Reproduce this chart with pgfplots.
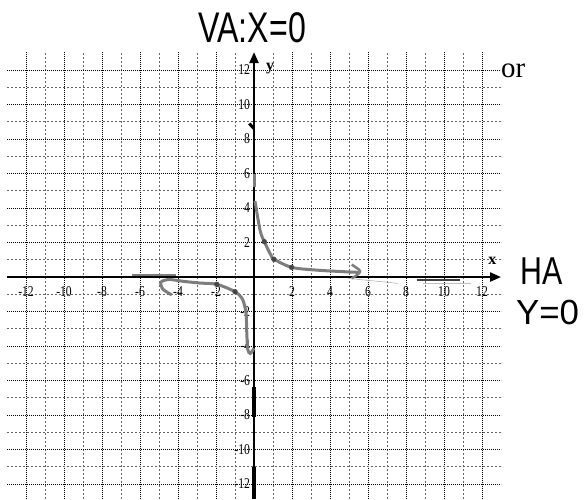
\documentclass[border=0pt]{standalone}
\usepackage{pgfplots}
\pgfplotsset{compat=1.18}
\usetikzlibrary{arrows.meta}
\usepackage{fontspec}
\setmainfont{Liberation Serif}
\newfontfamily\hand{Liberation Sans}

\definecolor{pen}{RGB}{125,125,125}
\definecolor{pendark}{RGB}{70,70,70}

\begin{document}
\begin{tikzpicture}
\begin{axis}[
  x=19bp, y=17.25bp,
  xmin=-13, xmax=13, ymin=-12.87, ymax=13.04,
  axis lines=middle,
  axis line style={black, line width=2.3bp, -{Triangle[length=11bp,width=9bp]}},
  xtick={-12,-10,-8,-6,-4,-2,2,4,6,8,10,12},
  xticklabels={-12,-10,-8,-6,-4,-2,2,4,6,8,10,12},
  ytick={-12,-10,-8,-6,-4,-2,2,4,6,8,10,12},
  yticklabels={-12,-10,-8,-6,-4,-2,2,4,6,8,10,12},
  minor xtick={-11,-9,-7,-5,-3,-1,1,3,5,7,9,11},
  minor ytick={-11,-9,-7,-5,-3,-1,1,3,5,7,9,11},
  major tick length=0pt, minor tick length=0pt,
  grid=both,
  major grid style={black, line width=0.7bp, dash pattern=on 0.9bp off 1.1bp},
  minor grid style={black!60, line width=0.6bp, dash pattern=on 1.6bp off 2.4bp},
  tick label style={font=\fontsize{15}{16}\selectfont, inner sep=0pt, xscale=0.78},
  xticklabel style={anchor=center, yshift=-14.7bp},
  yticklabel style={anchor=east, xshift=-5bp},
  xlabel={x}, ylabel={y},
  xlabel style={at={(axis description cs:0.9827,0.534)}, anchor=center, font=\bfseries\fontsize{16}{16}\selectfont},
  ylabel style={at={(axis description cs:0.5323,0.9637)}, anchor=center, rotate=0, font=\bfseries\fontsize{16}{16}\selectfont},
  clip=false,
]
% pen strokes along the axes
\addplot[pen, line width=2.5bp] coordinates {(-6.4,0.12) (-4.1,0.12)};
\addplot[gray!60, line width=0.6bp] coordinates {(4.96,-0.08) (7.6,-0.37)};
\addplot[black!75, line width=2bp] coordinates {(8.56,-0.15) (10.84,-0.15)};
\addplot[gray!50, line width=0.6bp] coordinates {(8.9,-0.37) (11.4,-0.37)};
\addplot[black, line width=3.5bp] coordinates {(0,-6.4) (0,-8.1)};
\addplot[black, line width=3.5bp] coordinates {(0,-11) (0,-12.87)};
\addplot[black, line width=3bp] coordinates {(-0.25,8.9) (0,8.6)};
\addplot[pen, line width=3bp] coordinates {(0,5.2) (0,6)};

% branch for x > 0
\addplot[pen, line width=3bp, smooth, tension=0.5] coordinates {
  (0.05,4.4) (0.32,2.7) (0.54,2.05) (0.93,1.18) (1.05,1.03)
  (1.98,0.56) (3.3,0.4) (4.7,0.31) (5.5,0.27)};
\addplot[pen, line width=2.5bp, smooth] coordinates {(5.14,0.72) (5.5,0.45) (5.58,0.3) (5.4,0.1) (5.14,-0.08)};

% branch for x < 0
\addplot[pen, line width=3bp, smooth, tension=0.45] coordinates {
  (-4.33,-1.04) (-4.8,-0.7) (-4.9,-0.3) (-4.5,-0.14) (-3.72,-0.25)
  (-2.84,-0.35) (-1.96,-0.42) (-1.0,-0.85) (-0.6,-1.3) (-0.42,-2.1)
  (-0.38,-3.27) (-0.33,-4.2) (-0.2,-4.43) (0,-4.13)};

% plotted points
\addplot[only marks, mark=*, mark size=2.4bp, pendark] coordinates {
  (0.54,2.05) (1.05,1.03) (1.98,0.56) (-1.96,-0.42) (-1.0,-0.85)};

% notes
\node[font=\hand\fontsize{43}{43}\selectfont, xscale=0.75, inner sep=0pt] at (axis cs:-0.1,14.43) {VA:X=0};
\node[anchor=base west, inner sep=0pt, font=\fontsize{29}{29}\selectfont] at (axis cs:13.0,11.54) {or};
\node[font=\hand\fontsize{39}{39}\selectfont, xscale=0.78, inner sep=0pt] at (axis cs:15.14,0.35) {HA};
\node[font=\hand\fontsize{35}{35}\selectfont, inner sep=0pt] at (axis cs:15.45,-2.06) {Y=0};

\coordinate (bl) at (axis cs:-13.37,-12.87);
\coordinate (tr) at (axis cs:17.42,16.06);
\end{axis}
\pgfresetboundingbox
\useasboundingbox (bl) rectangle (tr);
\end{tikzpicture}
\end{document}
